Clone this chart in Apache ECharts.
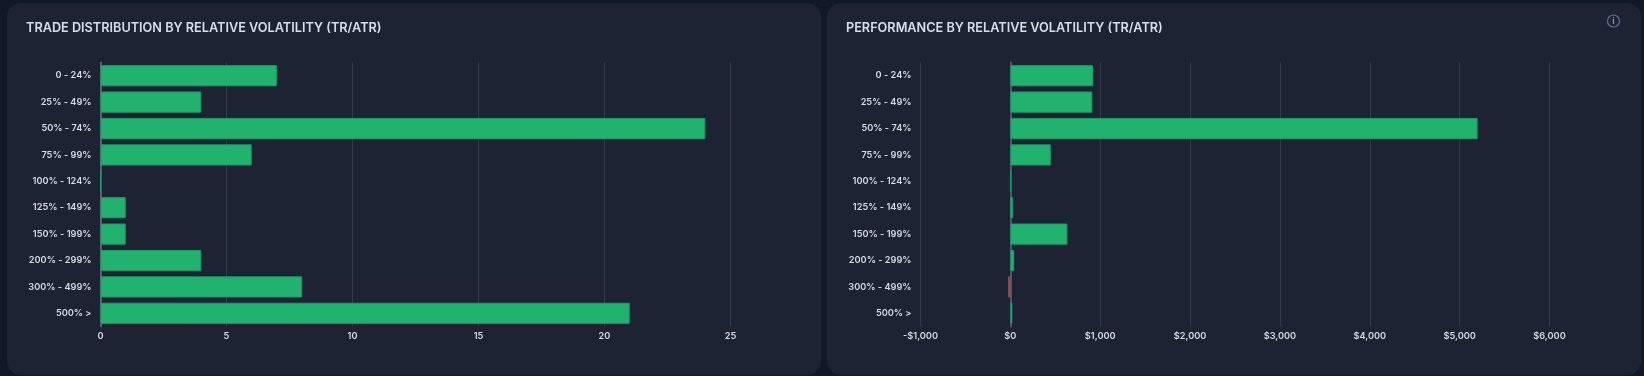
<!DOCTYPE html>
<html><head><meta charset="utf-8">
<style>
html,body{margin:0;padding:0;background:#111827;width:1644px;height:376px;overflow:hidden}
#c{position:absolute;left:0;top:0;width:1644px;height:376px}
.card{position:absolute;top:3px;height:372px;background:#1e2333;border-radius:14px}
</style>
<script src="https://cdn.jsdelivr.net/npm/echarts@6/dist/echarts.min.js"></script>
</head><body>
<div class="card" style="left:7px;width:814px"></div>
<div class="card" style="left:827px;width:814px"></div>
<div id="c"></div>
<script>
const categories = ['0 - 24%','25% - 49%','50% - 74%','75% - 99%','100% - 124%','125% - 149%','150% - 199%','200% - 299%','300% - 499%','500% >'];
const tradeCounts = [7,4,24,6,0,1,1,4,8,21];
const performance = [920,912,5200,450,3,30,635,42,-25,22];
const titles = ['TRADE DISTRIBUTION BY RELATIVE VOLATILITY (TR/ATR)','PERFORMANCE BY RELATIVE VOLATILITY (TR/ATR)'];

const font = 'Inter';
const labelStyle = {color:'#d5dce6',fontFamily:font,fontSize:9.2,fontWeight:600};
const titleStyle = {color:'#d8dee8',fontFamily:font,fontSize:12.7,fontWeight:600};
const chart = echarts.init(document.getElementById('c'), null, {renderer:'canvas'});
const catAxis = (i, lineColor, lineWidth) => ({
  type:'category', gridIndex:i, data:categories, inverse:true,
  axisTick:{show:false},
  axisLine:{show:true,onZero:true,lineStyle:{color:lineColor,width:lineWidth}},
  axisLabel:Object.assign({margin:9,padding:[2,0,0,0]},labelStyle)
});
const valAxis = (i, extra, fmt) => Object.assign({
  type:'value', gridIndex:i,
  axisLine:{show:false}, axisTick:{show:false},
  splitLine:{show:true,lineStyle:{color:'#353b4c',width:1}},
  axisLabel:Object.assign({margin:5,formatter:fmt},labelStyle)
}, extra);
const money = v => v < 0 ? '-$' + Math.abs(v).toLocaleString('en-US') : '$' + v.toLocaleString('en-US');
const green = {color:'#21b26f',borderColor:'#1d9c68',borderWidth:1};
const red = {color:'#a85a5c',borderColor:'#924f52',borderWidth:1};
chart.setOption({
  animation:false,
  backgroundColor:'transparent',
  title:[
    {text:titles[0],left:26,top:22,padding:0,textStyle:titleStyle},
    {text:titles[1],left:846,top:22,padding:0,textStyle:titleStyle}
  ],
  grid:[
    {left:100.5,top:62.5,width:630,height:264},
    {left:920.5,top:62.5,width:629,height:264}
  ],
  xAxis:[
    valAxis(0,{min:0,max:25,interval:5}),
    valAxis(1,{min:-1000,max:6000,interval:1000},money)
  ],
  yAxis:[catAxis(0,'#6b7280',1.5),catAxis(1,'#4f5767',2)],
  series:[
    {type:'bar',xAxisIndex:0,yAxisIndex:0,data:tradeCounts,barCategoryGap:'20%',itemStyle:green},
    {type:'bar',xAxisIndex:1,yAxisIndex:1,barCategoryGap:'20%',itemStyle:green,
     data:performance.map(v => v < 0 ? {value:v,itemStyle:red} : v)}
  ],
  graphic:[
    {type:'circle',shape:{cx:1613.5,cy:21,r:6},style:{fill:'transparent',stroke:'#5f6f8f',lineWidth:1.2}},
    {type:'text',x:1613.5,y:21,style:{text:'i',fill:'#8492ab',font:'700 9px Inter',align:'center',verticalAlign:'middle'}}
  ]
});
</script>
</body></html>
